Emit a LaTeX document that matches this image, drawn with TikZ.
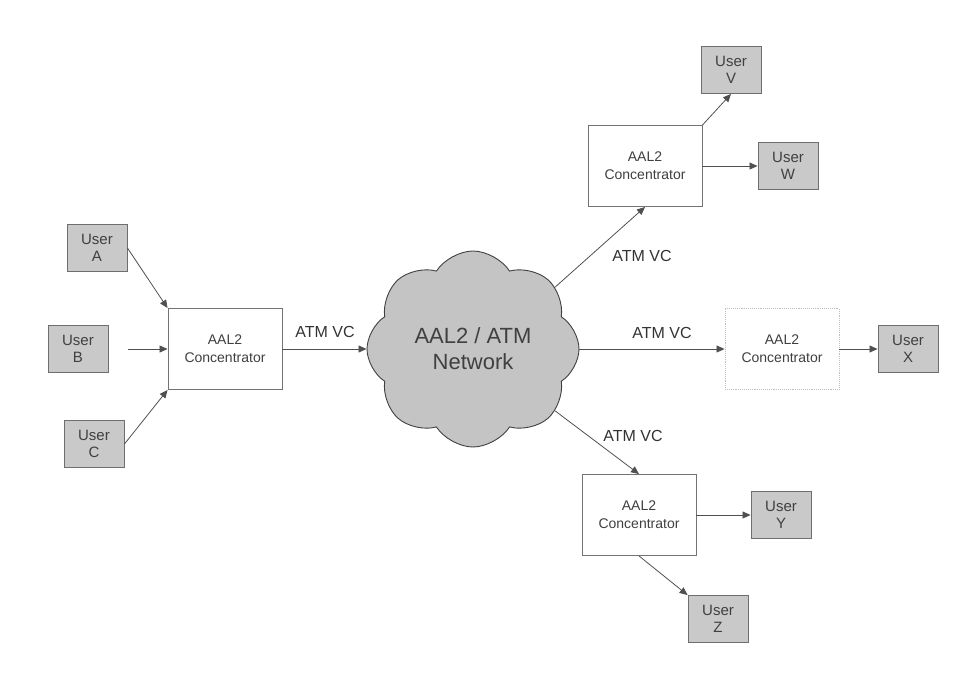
\documentclass[tikz,border=0pt]{standalone}
\usepackage{fontspec}
\setmainfont{Liberation Sans}
\usetikzlibrary{shapes.symbols,arrows.meta}
\definecolor{ufill}{HTML}{C9C9C9}
\definecolor{uline}{HTML}{6E6E6E}
\definecolor{cfill}{HTML}{C4C4C4}
\definecolor{lnk}{HTML}{505050}
\tikzset{
  userbox/.style={draw=uline,fill=ufill,line width=0.9pt,minimum width=60pt,minimum height=47pt,
    inner sep=0pt,align=center,font=\fontsize{15}{17}\selectfont,text=black!75},
  concbox/.style={draw=black!55,fill=white,line width=0.9pt,minimum width=114pt,minimum height=81pt,
    inner sep=0pt,align=center,font=\fontsize{14}{18}\selectfont,text=black!75},
  faintbox/.style={concbox,draw=black!25,densely dotted},
  link/.style={draw=lnk,line width=0.8pt,-{Triangle[length=8pt,width=7pt]}},
  vclabel/.style={font=\fontsize{16}{18}\selectfont,text=black!80,inner sep=0pt},
}
\begin{document}
\begin{tikzpicture}[x=1pt,y=-1pt]
\useasboundingbox (0,0) rectangle (966,675);
% users
\node[userbox] (UA) at (97,248) {User\\A};
\node[userbox] (UB) at (78,349) {User\\B};
\node[userbox] (UC) at (94,444) {User\\C};
\node[userbox] (UV) at (731,70) {User\\V};
\node[userbox] (UW) at (788,166) {User\\W};
\node[userbox] (UX) at (908,349) {User\\X};
\node[userbox] (UY) at (781,515) {User\\Y};
\node[userbox] (UZ) at (718,619) {User\\Z};
% concentrators
\node[concbox] (CL) at (225,349) {AAL2\\Concentrator};
\node[concbox] (CT) at (645,166) {AAL2\\Concentrator};
\node[faintbox] (CX) at (782,349) {};
\node[align=center,font=\fontsize{14}{18}\selectfont,text=black!75] (CXt) at (CX) {AAL2\\Concentrator};
\node[concbox] (CB) at (639,515) {AAL2\\Concentrator};
% cloud
\node[cloud,draw=black!75,fill=cfill,line width=0.9pt,cloud puffs=8,cloud puff arc=115,
  minimum width=212pt,minimum height=196pt,aspect=1.1,inner sep=0pt,align=center,
  font=\fontsize{22}{26}\selectfont,text=black!75] (N) at (473,349) {AAL2 / ATM\\Network};
% labels
\node[vclabel] (L1) at (325,332) {ATM VC};
\node[vclabel] (L2) at (642,256) {ATM VC};
\node[vclabel] (L3) at (662,333) {ATM VC};
\node[vclabel] (L4) at (633,436) {ATM VC};
% links
\draw[link] (UA.east) -- (CL.north west);
\draw[link,shorten <=20pt] (UB.east) -- (CL.west);
\draw[link] (UC.east) -- (CL.south west);
\draw[link] (CL.east) -- (N.west);
\draw[link] (N.37) -- (CT.south);
\draw[link] (N.east) -- (CX.west);
\draw[link] (N.-37) -- (CB.north);
\draw[link] (CT.north east) -- (UV.south);
\draw[link] (CT.east) -- (UW.west);
\draw[link] (CX.east) -- (UX.west);
\draw[link] (CB.east) -- (UY.west);
\draw[link] (CB.south) -- (UZ.north west);
\end{tikzpicture}
\end{document}
